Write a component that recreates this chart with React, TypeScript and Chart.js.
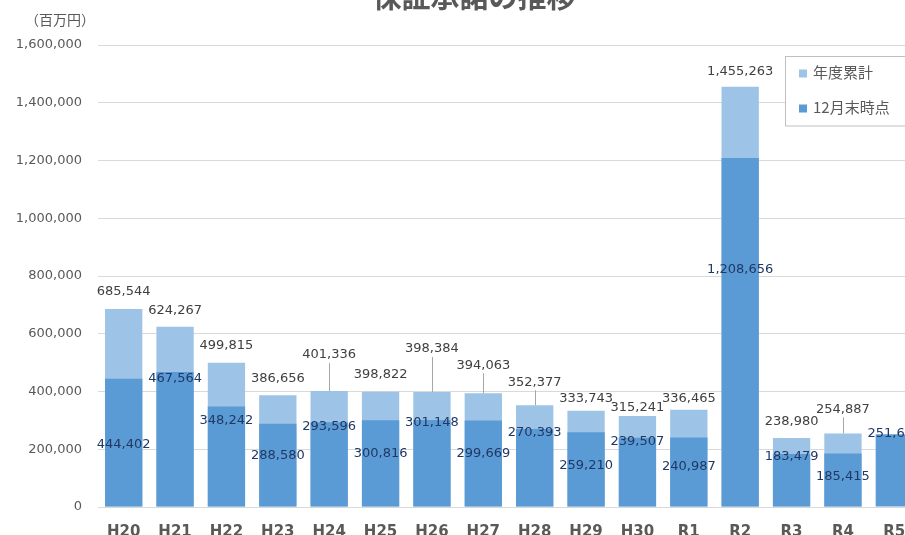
import React, { useEffect, useRef } from 'react';
import { Chart, registerables } from 'chart.js';

Chart.register(...registerables);

const categories = ['H20', 'H21', 'H22', 'H23', 'H24', 'H25', 'H26', 'H27', 'H28', 'H29', 'H30', 'R1', 'R2', 'R3', 'R4', 'R5'];
const annualTotal: (number | null)[] = [685544, 624267, 499815, 386656, 401336, 398822, 398384, 394063, 352377, 333743, 315241, 336465, 1455263, 238980, 254887, null];
const decemberEnd: (number | null)[] = [444402, 467564, 348242, 288580, 293596, 300816, 301148, 299669, 270393, 259210, 239507, 240987, 1208656, 183479, 185415, 251640];
const seriesNames = ['年度累計', '12月末時点'];
const titleText = '保証承諾の推移';
const unitText = '（百万円）';
const yMax = 1600000;
const yStep = 200000;

// label placement (pixels relative to bar top), mimicking hand-placed labels
const lightLabelLift = [17, 16, 17, 17, 36, 17, 43, 28, 23, 12, 8, 11, 15, 16, 24, 0];
const darkLabelDrop = [66, 7, 14, 32, 4, 33, 3, 33, 4, 33, 4, 29, 112, 3, 23, -1];

const LIGHT = '#9DC3E6';
const DARK = '#5B9BD5';
const GRAY = '#595959';
const NUM_FONT = '"DejaVu Sans", sans-serif';
const CJK_FONT = '"Noto Sans CJK JP", sans-serif';

const fmt = (v: number) => v.toLocaleString('en-US');

const decorPlugin = {
  id: 'decor',
  afterDatasetsDraw(chart: any) {
    const ctx = chart.ctx as CanvasRenderingContext2D;
    ctx.save();
    ctx.font = `13px ${NUM_FONT}`;
    ctx.textAlign = 'center';
    ctx.textBaseline = 'middle';
    chart.data.datasets.forEach((ds: any, di: number) => {
      const meta = chart.getDatasetMeta(di);
      meta.data.forEach((el: any, i: number) => {
        const v = ds.data[i];
        if (v == null) return;
        if (di === 0) {
          const lift = lightLabelLift[i];
          const ly = el.y - lift;
          if (lift > 20) {
            ctx.strokeStyle = '#a6a6a6';
            ctx.lineWidth = 1;
            ctx.beginPath();
            ctx.moveTo(Math.round(el.x) + 0.5, ly + 8);
            ctx.lineTo(Math.round(el.x) + 0.5, el.y);
            ctx.stroke();
          }
          ctx.fillStyle = '#404040';
          ctx.fillText(fmt(v), el.x, ly);
        } else {
          ctx.fillStyle = '#203864';
          ctx.fillText(fmt(v), el.x, el.y + darkLabelDrop[i]);
        }
      });
    });
    ctx.restore();
  },
  afterDraw(chart: any) {
    const ctx = chart.ctx as CanvasRenderingContext2D;
    ctx.save();
    // title (cut off at top as in the reference)
    ctx.fillStyle = GRAY;
    ctx.font = `bold 29px ${CJK_FONT}`;
    ctx.textAlign = 'center';
    ctx.textBaseline = 'middle';
    ctx.fillText(titleText, 474, -3);
    // unit label
    ctx.font = `14px ${CJK_FONT}`;
    ctx.textAlign = 'left';
    ctx.fillText(unitText, 25, 20);
    // legend box
    ctx.fillStyle = '#ffffff';
    ctx.fillRect(785.5, 56.5, 132, 69.5);
    ctx.strokeStyle = '#bfbfbf';
    ctx.lineWidth = 1;
    ctx.strokeRect(785.5, 56.5, 132, 69.5);
    const colors = [LIGHT, DARK];
    const ys = [73.5, 108.5];
    ctx.font = `15px ${CJK_FONT}`;
    ctx.textBaseline = 'middle';
    seriesNames.forEach((name, i) => {
      ctx.fillStyle = colors[i];
      ctx.fillRect(799, ys[i] - 4, 8, 8);
      ctx.fillStyle = GRAY;
      ctx.fillText(name, 813, ys[i] - 1);
    });
    ctx.restore();
  },
};

export default function App() {
  const ref = useRef<HTMLCanvasElement | null>(null);
  useEffect(() => {
    if (!ref.current) return;
    const chart = new Chart(ref.current, {
      type: 'bar',
      data: {
        labels: categories,
        datasets: [
          { label: seriesNames[0], data: annualTotal, backgroundColor: LIGHT, order: 1, grouped: false } as any,
          { label: seriesNames[1], data: decemberEnd, backgroundColor: DARK, order: 0, grouped: false } as any,
        ],
      },
      options: {
        responsive: true,
        maintainAspectRatio: false,
        animation: false,
        layout: { padding: { top: 45, right: 5, left: 0, bottom: 0 } },
        datasets: { bar: { categoryPercentage: 1, barPercentage: 0.726 } } as any,
        plugins: { legend: { display: false }, title: { display: false }, tooltip: { enabled: false } },
        scales: {
          x: {
            grid: { display: false },
            border: { display: false },
            ticks: { color: GRAY, font: { family: NUM_FONT, size: 15, weight: 'bold' }, padding: 8, maxRotation: 0, autoSkip: false },
            afterFit: (s: any) => { s.height = 28; },
          },
          y: {
            min: 0,
            max: yMax,
            grid: { color: '#d9d9d9', drawTicks: false },
            border: { display: false },
            ticks: { stepSize: yStep, color: GRAY, font: { family: NUM_FONT, size: 13 }, padding: 16, callback: (v: any) => fmt(Number(v)) },
            afterFit: (s: any) => { s.width = 98; },
          },
        },
      },
      plugins: [decorPlugin],
    });
    return () => chart.destroy();
  }, []);
  return (
    <div style={{ position: 'absolute', left: 0, top: 0, width: 905, height: 535, overflow: 'hidden', background: '#fff' }}>
      <div style={{ position: 'relative', width: 925, height: 535 }}>
        <canvas ref={ref} />
      </div>
    </div>
  );
}
